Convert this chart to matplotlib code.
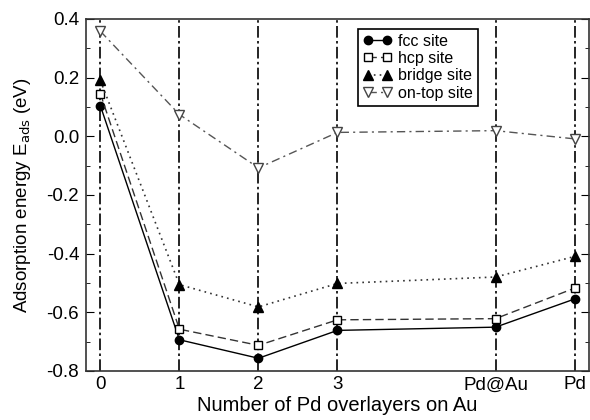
import numpy as np
import matplotlib.pyplot as plt
from matplotlib.ticker import MultipleLocator

plt.rcParams['font.family'] = ['Liberation Sans', 'DejaVu Sans']

x_pos = [0, 1, 2, 3, 5, 6]
x_labels = ["0", "1", "2", "3", "Pd@Au", "Pd"]

fcc = [0.104, -0.694, -0.757, -0.662, -0.651, -0.555]
hcp = [0.145, -0.658, -0.713, -0.626, -0.622, -0.518]
bridge = [0.190, -0.506, -0.582, -0.502, -0.480, -0.410]
ontop = [0.358, 0.074, -0.108, 0.013, 0.019, -0.009]

fig = plt.figure(figsize=(5.9, 4.2), dpi=100)
ax = fig.add_axes([0.146, 0.117, 0.852, 0.838])

# vertical dash-dot guide lines at each structure
for xv in x_pos:
    ax.axvline(xv, color='black', lw=1.2, ls=(0, (7, 2, 1.5, 2)), zorder=1)

ax.plot(x_pos, fcc, color='black', ls='-', lw=1.0, marker='o', ms=6,
        mfc='black', mec='black', label='fcc site', zorder=3)
ax.plot(x_pos, hcp, color='#333333', ls=(0, (6, 3)), lw=1.0, marker='s', ms=6,
        mfc='white', mec='black', label='hcp site', zorder=3)
ax.plot(x_pos, bridge, color='#333333', ls=(0, (1, 2.5)), lw=1.2, marker='^', ms=7,
        mfc='black', mec='black', label='bridge site', zorder=3)
ax.plot(x_pos, ontop, color='#555555', ls=(0, (6, 3, 1.5, 3)), lw=1.0, marker='v', ms=7,
        mfc='white', mec='#444444', label='on-top site', zorder=3)

ax.set_xlim(-0.18, 6.18)
ax.set_ylim(-0.8, 0.4)
ax.set_xticks(x_pos)
ax.set_xticklabels(x_labels)
ax.yaxis.set_minor_locator(MultipleLocator(0.1))
ax.set_yticks(np.arange(-0.8, 0.41, 0.2))
ax.set_yticklabels(["-0.8", "-0.6", "-0.4", "-0.2", "0.0", "0.2", "0.4"])
ax.tick_params(axis='y', which='both', direction='in', right=True, labelsize=13.5, pad=5)
ax.tick_params(axis='y', which='major', length=6)
ax.tick_params(axis='y', which='minor', length=3)
ax.tick_params(axis='x', direction='in', length=0, labelsize=13.5, pad=4)
for s in ax.spines.values():
    s.set_linewidth(1.2)
    s.set_color('#333333')

ax.set_xlabel("Number of Pd overlayers on Au", fontsize=14.5, labelpad=2)
ax.set_ylabel("Adsorption energy E$_{\\mathrm{ads}}$ (eV)", fontsize=13.5, labelpad=10)

leg = ax.legend(loc='upper left', bbox_to_anchor=(0.541, 0.972), numpoints=2,
                fontsize=11.5, fancybox=False, framealpha=1, edgecolor='black',
                handlelength=1.8, handletextpad=0.4, borderpad=0.3, labelspacing=0.15,
                borderaxespad=0)
leg.get_frame().set_linewidth(1.2)

fig.savefig("out.png", dpi=100)
